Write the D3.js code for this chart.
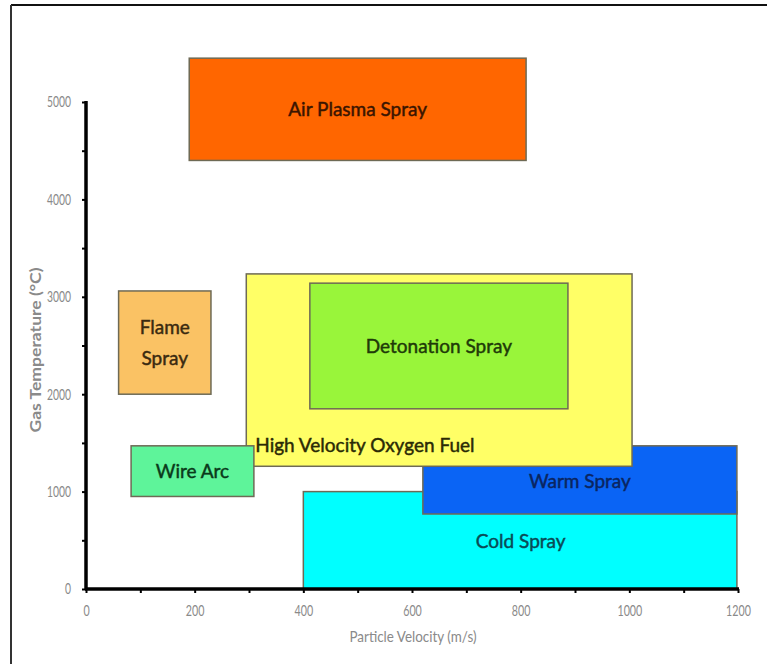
<!DOCTYPE html>
<html><head><meta charset="utf-8">
<script src="https://cdn.jsdelivr.net/npm/d3@7"></script>
<style>
body{margin:0;background:#fff;}
svg{display:block;}
</style></head><body>
<svg id="chart" width="767" height="664"></svg>
<script>
const processes = ["Air Plasma Spray","Flame Spray","Cold Spray","Warm Spray","High Velocity Oxygen Fuel","Detonation Spray","Wire Arc"];
const velMin = [190, 60, 400, 620, 295, 412, 83];
const velMax = [810, 230, 1198, 1198, 1005, 887, 309];
const tempMin = [4400, 2000, 0, 770, 1260, 1850, 950];
const tempMax = [5450, 3060, 1000, 1470, 3235, 3140, 1470];
const fills = ["#ff6600","#fac264","#00ffff","#0a64f5","#ffff66","#99f53a","#5ef49a"];
const textCols = ["#3a1500","#3a2a10","#0a4a55","#0a2560","#2a2a05","#203a08","#0a3a1a"];
const labelLines = [["Air Plasma Spray"],["Flame","Spray"],["Cold Spray"],["Warm Spray"],["High Velocity Oxygen Fuel"],["Detonation Spray"],["Wire Arc"]];
const xTickLabels = [0,200,400,600,800,1000,1200];
const yTickLabels = [0,1000,2000,3000,4000,5000];

const svg = d3.select("#chart");
const font = "Lato, 'Open Sans', sans-serif";

// frame
svg.append("line").attr("x1",11).attr("y1",5).attr("x2",767).attr("y2",5).attr("stroke","#111").attr("stroke-width",2);
svg.append("line").attr("x1",11).attr("y1",5).attr("x2",11).attr("y2",664).attr("stroke","#333").attr("stroke-width",2);

const x = d3.scaleLinear().domain([0,1200]).range([86,738]);
const y = d3.scaleLinear().domain([0,5000]).range([589,102]);

// rects
const idx = d3.range(processes.length);
svg.append("g").selectAll("rect").data(idx).join("rect")
  .attr("x", i=>x(velMin[i])).attr("y", i=>y(tempMax[i]))
  .attr("width", i=>x(velMax[i])-x(velMin[i]))
  .attr("height", i=>y(tempMin[i])-y(tempMax[i]))
  .attr("fill", i=>fills[i])
  .attr("stroke","#6e6a55").attr("stroke-width",1.5);

// labels
const lg = svg.append("g");
idx.forEach(i=>{
  const lines = labelLines[i];
  let cx = (x(velMin[i])+x(velMax[i]))/2;
  let cy = (y(tempMin[i])+y(tempMax[i]))/2;
  let anchor = "middle";
  if (i===4){ cx = x(velMin[i])+9; cy = y(tempMin[i]) - 21; anchor="start"; }
  if (i===3){ cy = y(1110); }
  if (i===2){ cx = x(800); cy = y(490); }
  const lh = 31;
  const t = lg.append("text").attr("text-anchor",anchor)
    .attr("font-family",font).attr("font-size",19).attr("fill",textCols[i])
    .attr("stroke",textCols[i]).attr("stroke-width",0.45);
  lines.forEach((l,k)=>{
    t.append("tspan").attr("x",cx).attr("y", cy + (k-(lines.length-1)/2)*lh).attr("dy","0.35em").text(l);
  });
});

// axes
const xAxis = d3.axisBottom(x).tickValues(d3.range(0,1201,100)).tickSize(4)
  .tickFormat(d=> xTickLabels.includes(d)? d : "");
const gx = svg.append("g").attr("transform","translate(0,589)").call(xAxis);
gx.select(".domain").attr("stroke","#000").attr("stroke-width",3.5).attr("d","M85,0H739");
gx.selectAll(".tick line").attr("stroke","#000").attr("stroke-width",2);
gx.selectAll(".tick text").attr("font-family",font).attr("font-size",15).attr("fill","#8a8a8a").attr("dy","1.3em")
  .filter(d=>xTickLabels.includes(d))
  .attr("textLength", d=>String(d).length*6.2).attr("lengthAdjust","spacingAndGlyphs");

const yAxis = d3.axisLeft(y).tickValues(d3.range(0,5001,500)).tickSize(4)
  .tickFormat(d=> yTickLabels.includes(d)? d : "");
const gy = svg.append("g").attr("transform","translate(86,0)").call(yAxis);
gy.select(".domain").attr("stroke","#000").attr("stroke-width",3.5).attr("d","M0,101V590");
gy.selectAll(".tick line").attr("stroke","#000").attr("stroke-width",2);
gy.selectAll(".tick text").attr("font-family",font).attr("font-size",15).attr("fill","#8a8a8a").attr("x",-15)
  .filter(d=>yTickLabels.includes(d))
  .attr("textLength", d=>String(d).length*6.0).attr("lengthAdjust","spacingAndGlyphs");

// axis titles
svg.append("text").attr("x",413).attr("y",642).attr("text-anchor","middle")
  .attr("font-family",font).attr("font-size",15).attr("fill","#8a8a8a")
  .attr("textLength",127).attr("lengthAdjust","spacingAndGlyphs").text("Particle Velocity (m/s)");
svg.append("text").attr("transform","translate(41,350) rotate(-90)").attr("text-anchor","middle")
  .attr("font-family",font).attr("font-size",15).attr("fill","#8a8a8a").attr("font-weight","bold")
  .attr("textLength",165).attr("lengthAdjust","spacingAndGlyphs").text("Gas Temperature (°C)");
</script>
</body></html>
